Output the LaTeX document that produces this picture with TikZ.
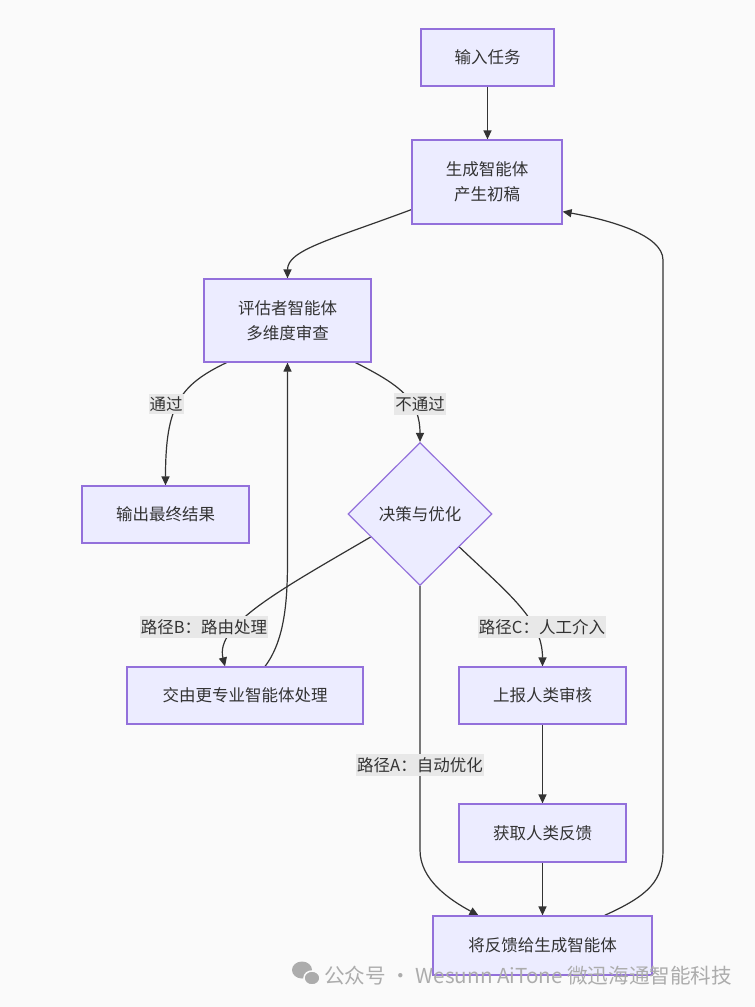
\documentclass[tikz,border=0pt]{standalone}
\usepackage{fontspec}
\setmainfont{Noto Sans CJK SC}
\usetikzlibrary{positioning, arrows.meta, shapes.geometric, backgrounds}
\definecolor{nodefill}{RGB}{236,236,255}
\definecolor{nodeline}{RGB}{147,112,219}
\definecolor{edgeline}{RGB}{51,51,51}
\definecolor{labelfill}{RGB}{232,232,232}
\definecolor{pagebg}{RGB}{250,250,250}
\definecolor{marktext}{RGB}{172,172,172}

\begin{document}
\begin{tikzpicture}[x=1pt, y=-1pt, font=\fontsize{16.5}{25}\selectfont, text=edgeline,
  box/.style={draw=nodeline, fill=nodefill, line width=1.2pt, inner sep=0pt, align=center, minimum height=57pt},
  choice/.style={diamond, draw=nodeline, fill=nodefill, line width=1.2pt, inner sep=0pt, minimum width=144pt, minimum height=143pt},
  flow/.style={draw=edgeline, line width=1.2pt, -{Triangle[length=9pt, width=8pt]}},
  tag/.style={fill=labelfill, inner xsep=1pt, inner ysep=3pt}]
  \useasboundingbox (0,0) rectangle (755,1007);

  % Steps
  \node[box, minimum width=133pt] (input) at (487.5,57.5) {输入任务};
  \node[box, minimum width=150pt, minimum height=84pt] (gen) at (487,182) {生成智能体\\产生初稿};
  \node[box, minimum width=167pt, minimum height=83pt] (eval) at (287.5,320.5) {评估者智能体\\多维度审查};
  \node[box, minimum width=167pt] (output) at (165.5,514.5) {输出最终结果};
  \node[choice] (decide) at (420,514) {决策与优化};
  \node[box, minimum width=236pt] (route) at (245,695.5) {交由更专业智能体处理};
  \node[box, minimum width=167pt] (report) at (542.5,695.5) {上报人类审核};
  \node[box, minimum width=167pt, minimum height=58pt] (feedback) at (542.5,833) {获取人类反馈};
  \node[box, minimum width=219pt, minimum height=59pt] (giveback) at (542.5,945.5) {将反馈给生成智能体};

  % Edge labels
  \node[tag] (lblpass) at (166,404) {通过};
  \node[tag] (lblfail) at (420,404) {不通过};
  \node[tag] (lblB) at (204,627) {路径B：路由处理};
  \node[tag] (lblC) at (542,627) {路径C：人工介入};
  \node[tag] (lblA) at (420,765) {路径A：自动优化};

  % Connectors
  \begin{scope}[on background layer]
    \fill[pagebg] (0,0) rectangle (755,1007);
    \draw[flow] (input.south) -- (input.south |- gen.north);
    \draw[flow] ([yshift=15pt]gen.south west) .. controls (330,240) and (287.5,250) .. (eval.north);
    \draw[flow] ([xshift=-61pt]eval.south) .. controls (180,385) and (165.5,405) .. (output.north);
    \draw[flow] ([xshift=68pt]eval.south) .. controls (400,385) and (420,400) .. (decide.north);
    \draw[flow] (decide.205) .. controls (280,590) and (215,625) .. ([xshift=-20pt]route.north);
    \draw[flow] ([xshift=20pt]route.north) .. controls (285,640) and (287.5,600) .. (287.5,560) -- (eval.south);
    \draw[flow] (decide.-40) .. controls (510,595) and (542.5,620) .. (report.north);
    \draw[flow] (report) -- (feedback);
    \draw[flow] (feedback) -- (giveback);
    \draw[flow] (decide.south) -- (420,850) .. controls (420,880) and (450,900) .. ([xshift=-64pt]giveback.north);
    \draw[flow] ([xshift=62pt]giveback.north) .. controls (650,895) and (663,880) .. (663,850) -- (663,260) .. controls (663,235) and (610,220) .. ([yshift=13pt]gen.south east);
  \end{scope}

  % Watermark
  \fill[marktext] (302,970) ellipse [x radius=10pt, y radius=8.5pt];
  \filldraw[marktext, draw=pagebg, line width=1.5pt] (312,978) ellipse [x radius=8pt, y radius=7pt];
  \node[text=marktext, anchor=west, inner sep=0pt, font=\fontsize{20.6}{24}\selectfont] (mark) at (324,976) {公众号 · Wesunn AiTone 微迅海通智能科技};
\end{tikzpicture}
\end{document}
